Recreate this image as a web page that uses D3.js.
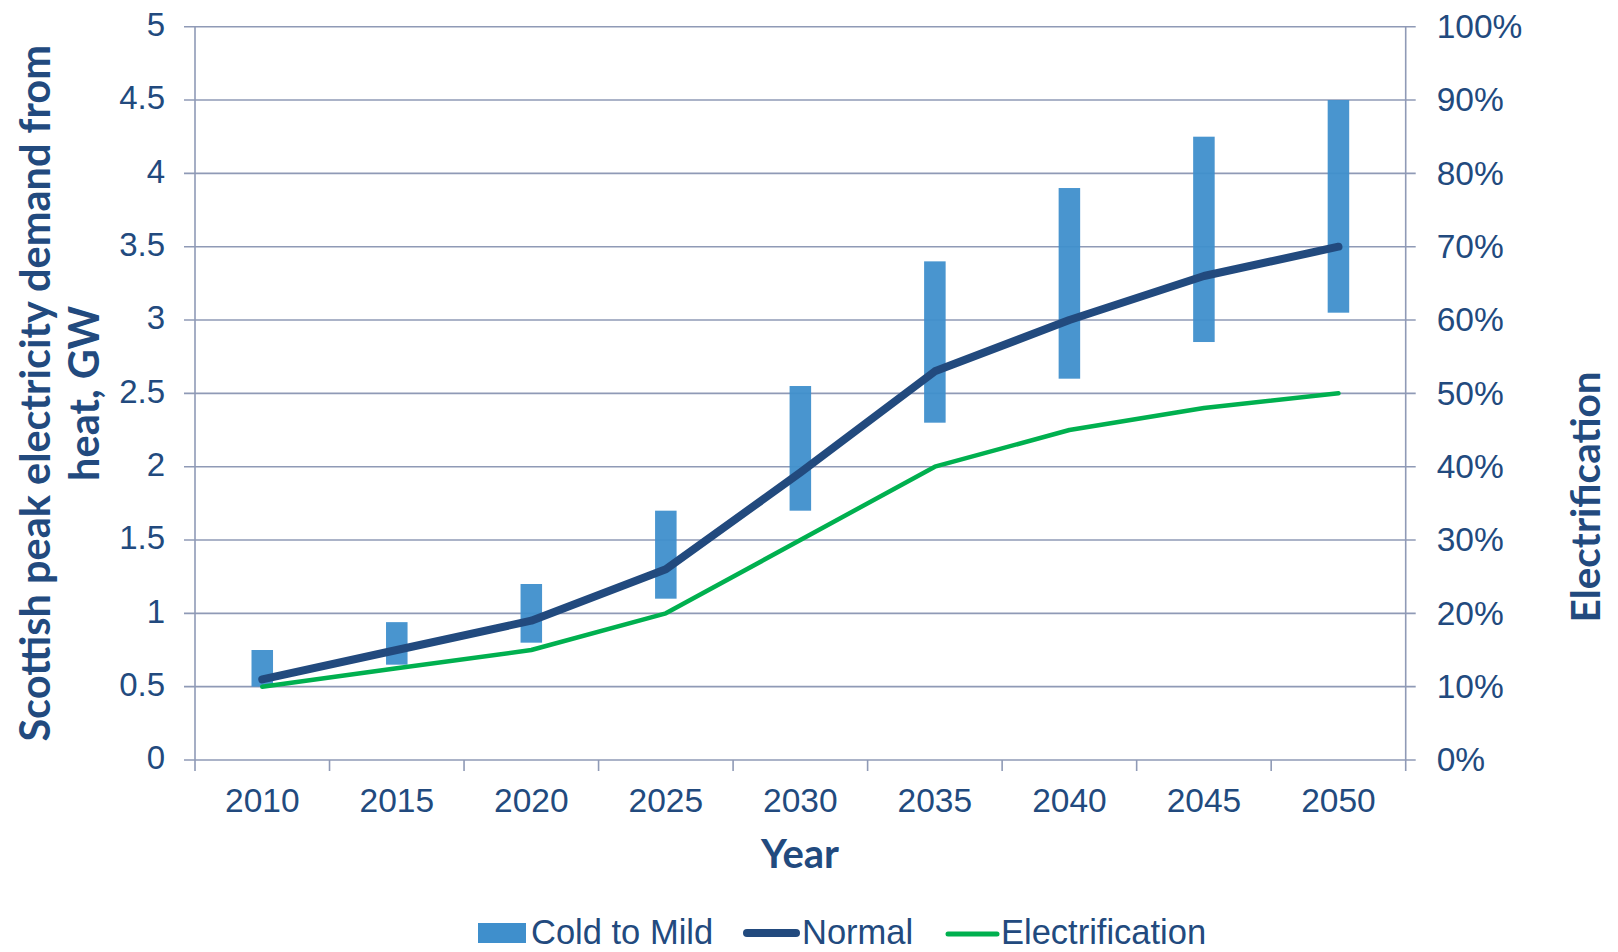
<!DOCTYPE html>
<html>
<head>
<meta charset="utf-8">
<script src="https://cdn.jsdelivr.net/npm/d3@7"></script>
<style>
  html, body { margin: 0; padding: 0; background: #fff; }
  svg { display: block; }
  .tick text { font-family: "Liberation Sans", Arial, sans-serif; }
</style>
</head>
<body>
<svg id="chart" width="1618" height="952"></svg>
<script>
// Years on the category axis
const years = ["2010", "2015", "2020", "2025", "2030", "2035", "2040", "2045", "2050"];
// Cold-to-mild range of peak demand (GW): low and high ends of each bar
const coldToMildLow  = [0.50, 0.65, 0.80, 1.10, 1.70, 2.30, 2.60, 2.85, 3.05];
const coldToMildHigh = [0.75, 0.94, 1.20, 1.70, 2.55, 3.40, 3.90, 4.25, 4.50];
// Normal-winter peak demand (GW)
const normal = [0.55, 0.75, 0.95, 1.30, 1.96, 2.65, 3.00, 3.30, 3.50];
// Share of heat electrified (right axis)
const electrification = [0.10, 0.125, 0.15, 0.20, 0.30, 0.40, 0.45, 0.48, 0.50];
// Axis ticks
const leftTicks  = [0, 0.5, 1, 1.5, 2, 2.5, 3, 3.5, 4, 4.5, 5];
const rightTicks = [0, 0.1, 0.2, 0.3, 0.4, 0.5, 0.6, 0.7, 0.8, 0.9, 1.0];

const ink = "#224A7E";
const gridColor = "#8F9AB6";
const barColor = "#3F8FCC";
const normalColor = "#224A7E";
const elecColor = "#00B04F";

const svg = d3.select("#chart");
const plot = { left: 195, right: 1405.7, top: 26.7, bottom: 760 };

const x = d3.scaleBand().domain(years).range([plot.left, plot.right]).padding(0);
const y = d3.scaleLinear().domain([0, 5]).range([plot.bottom, plot.top]);
const yR = d3.scaleLinear().domain([0, 1]).range([plot.bottom, plot.top]);
const cx = d => x(d) + x.bandwidth() / 2;

// Horizontal gridlines (extend past both axes as tick marks)
svg.append("g")
  .selectAll("line")
  .data(leftTicks)
  .join("line")
  .attr("x1", plot.left - 11).attr("x2", plot.right + 10)
  .attr("y1", d => y(d)).attr("y2", d => y(d))
  .attr("stroke", gridColor).attr("stroke-width", 1.6);

// Vertical axis lines
[plot.left, plot.right].forEach(px => {
  svg.append("line")
    .attr("x1", px).attr("x2", px)
    .attr("y1", plot.top).attr("y2", plot.bottom + 11)
    .attr("stroke", gridColor).attr("stroke-width", 1.6);
});

// Category boundary ticks under the x axis
svg.append("g")
  .selectAll("line")
  .data(years.slice(1))
  .join("line")
  .attr("x1", d => x(d)).attr("x2", d => x(d))
  .attr("y1", plot.bottom).attr("y2", plot.bottom + 11)
  .attr("stroke", gridColor).attr("stroke-width", 1.6);

// Cold-to-mild range bars
const barW = x.bandwidth() * 0.16;
svg.append("g")
  .selectAll("rect")
  .data(years)
  .join("rect")
  .attr("x", d => cx(d) - barW / 2)
  .attr("width", barW)
  .attr("y", (d, i) => y(coldToMildHigh[i]))
  .attr("height", (d, i) => y(coldToMildLow[i]) - y(coldToMildHigh[i]))
  .attr("fill", barColor)
  .attr("fill-opacity", 0.95);

// Electrification line (right axis)
svg.append("path")
  .datum(electrification)
  .attr("fill", "none")
  .attr("stroke", elecColor)
  .attr("stroke-width", 4.5)
  .attr("stroke-linejoin", "round")
  .attr("stroke-linecap", "round")
  .attr("d", d3.line().x((d, i) => cx(years[i])).y(d => yR(d)));

// Normal line (left axis)
svg.append("path")
  .datum(normal)
  .attr("fill", "none")
  .attr("stroke", normalColor)
  .attr("stroke-width", 8)
  .attr("stroke-linejoin", "round")
  .attr("stroke-linecap", "round")
  .attr("d", d3.line().x((d, i) => cx(years[i])).y(d => y(d)));

// Left axis labels
const leftAxis = svg.append("g")
  .attr("transform", `translate(${plot.left},0)`)
  .call(d3.axisLeft(y).tickValues(leftTicks).tickFormat(d3.format("~g")).tickSize(0).tickPadding(30));
leftAxis.select(".domain").remove();
leftAxis.selectAll("text")
  .attr("font-size", 33).attr("fill", ink).attr("dy", "0.27em");

// Right axis labels
const rightAxis = svg.append("g")
  .attr("transform", `translate(${plot.right},0)`)
  .call(d3.axisRight(yR).tickValues(rightTicks).tickFormat(d3.format(".0%")).tickSize(0).tickPadding(31));
rightAxis.select(".domain").remove();
rightAxis.selectAll("text")
  .attr("font-size", 33.5).attr("fill", ink).attr("dy", "0.32em");

// Bottom axis labels
const bottomAxis = svg.append("g")
  .attr("transform", `translate(0,${plot.bottom})`)
  .call(d3.axisBottom(x).tickSize(0).tickPadding(28));
bottomAxis.select(".domain").remove();
bottomAxis.selectAll("text")
  .attr("font-size", 33.5).attr("fill", ink).attr("dy", "0.71em");

// Axis titles
const titleFont = "Lato, 'Open Sans', sans-serif";
svg.append("text")
  .attr("x", 800).attr("y", 868)
  .attr("text-anchor", "middle")
  .attr("font-family", titleFont).attr("font-weight", "bold")
  .attr("font-size", 40).attr("fill", ink)
  .text("Year");

const yTitle = svg.append("text")
  .attr("transform", `translate(0,${(plot.top + plot.bottom) / 2}) rotate(-90)`)
  .attr("text-anchor", "middle")
  .attr("font-family", titleFont).attr("font-weight", "bold")
  .attr("font-size", 41.5).attr("fill", ink);
yTitle.append("tspan").attr("x", 0).attr("y", 50).text("Scottish peak electricity demand from");
yTitle.append("tspan").attr("x", 0).attr("y", 99).text("heat, GW");

svg.append("text")
  .attr("transform", `translate(1600,497) rotate(-90)`)
  .attr("text-anchor", "middle")
  .attr("font-family", titleFont).attr("font-weight", "bold")
  .attr("font-size", 40.5).attr("fill", ink)
  .text("Electrification");

// Legend along the bottom edge
const legend = svg.append("g");
const legendText = (lx, label) => legend.append("text")
  .attr("x", lx).attr("y", 944)
  .attr("font-family", "'Liberation Sans', Arial, sans-serif")
  .attr("font-size", 34.5).attr("fill", ink)
  .text(label);

legend.append("rect").attr("x", 478).attr("y", 923).attr("width", 48).attr("height", 20).attr("fill", barColor);
legendText(531, "Cold to Mild");
legend.append("line").attr("x1", 747).attr("x2", 796).attr("y1", 933).attr("y2", 933)
  .attr("stroke", normalColor).attr("stroke-width", 8).attr("stroke-linecap", "round");
legendText(802, "Normal");
legend.append("line").attr("x1", 948).attr("x2", 997).attr("y1", 934).attr("y2", 934)
  .attr("stroke", elecColor).attr("stroke-width", 5).attr("stroke-linecap", "round");
legendText(1001, "Electrification");
</script>
</body>
</html>
